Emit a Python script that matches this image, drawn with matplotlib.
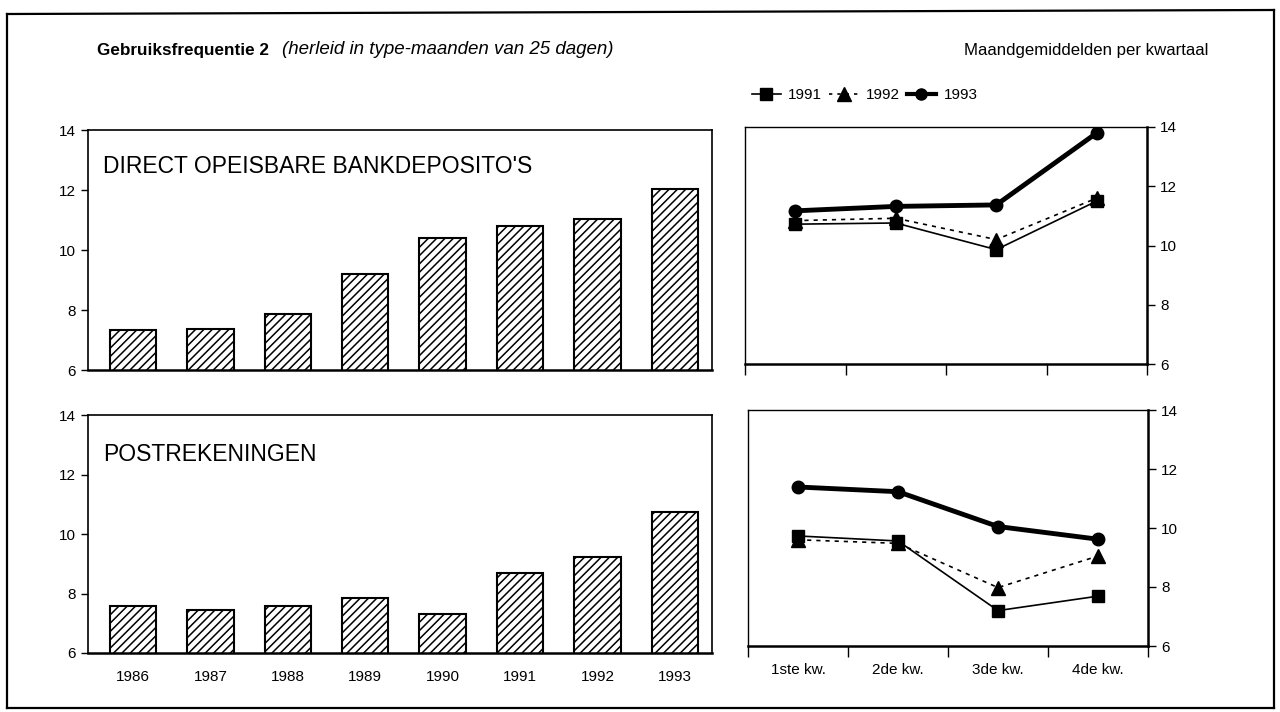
import numpy as np
import matplotlib.pyplot as plt
from matplotlib.lines import Line2D

plt.rcParams['font.family'] = ['Liberation Sans', 'DejaVu Sans']
plt.rcParams['hatch.linewidth'] = 1.1

# data
years = ['1986', '1987', '1988', '1989', '1990', '1991', '1992', '1993']
bank = [7.35, 7.37, 7.87, 9.19, 10.41, 10.8, 11.05, 12.05]
post = [7.58, 7.43, 7.57, 7.84, 7.32, 8.68, 9.23, 10.75]

quarters = ['1ste kw.', '2de kw.', '3de kw.', '4de kw.']
bank_1991 = [10.72, 10.76, 9.86, 11.5]
bank_1992 = [10.84, 10.92, 10.2, 11.6]
bank_1993 = [11.17, 11.32, 11.37, 13.8]
post_1991 = [9.73, 9.56, 7.2, 7.69]
post_1992 = [9.6, 9.48, 7.98, 9.05]
post_1993 = [11.39, 11.23, 10.05, 9.62]

W, H = 1280, 712
fig = plt.figure(figsize=(12.8, 7.12), dpi=100)

def box(x0, y0, x1, y1):
    # pixel coords (top-left origin) -> figure fraction rect
    return [x0 / W, 1 - y1 / H, (x1 - x0) / W, (y1 - y0) / H]

# outer frame
for xs, ys in [([7, 7], [14, 708]), ([7, 1274], [14, 10]), ([1274, 1274], [10, 708]),
               ([7, 1274], [708, 708])]:
    fig.add_artist(Line2D([x / W for x in xs], [1 - y / H for y in ys],
                          color='black', lw=1.6))

fig.text(97 / W, 1 - 50 / H, 'Gebruiksfrequentie 2', fontsize=12.3,
         fontweight='bold', va='center')
fig.text(282 / W, 1 - 50 / H, '(herleid in type-maanden van 25 dagen)',
         fontsize=13.5, style='italic', va='center')
fig.text(1208 / W, 1 - 50 / H, 'Maandgemiddelden per kwartaal', fontsize=12.1,
         ha='right', va='center')

def bar_panel(rect, values, label, label_y, show_years):
    ax = fig.add_axes(rect)
    x = np.arange(len(years))
    ax.bar(x, values, width=0.6, bottom=0, color='white', edgecolor='black',
           hatch='////', linewidth=1.5)
    ax.set_xlim(-0.58, 7.48)
    ax.set_ylim(6, 14)
    ax.set_yticks([6, 8, 10, 12, 14])
    ax.tick_params(axis='y', direction='out', length=5, labelsize=11, width=1)
    ax.set_xticks(x)
    if show_years:
        ax.set_xticklabels(years, fontsize=11)
        ax.tick_params(axis='x', length=0, pad=12)
    else:
        ax.set_xticklabels([])
        ax.tick_params(axis='x', length=0)
    for s in ax.spines.values():
        s.set_linewidth(1.2)
    ax.spines['bottom'].set_linewidth(1.8)
    ax.text(0.024, label_y, label, transform=ax.transAxes, fontsize=16.5,
            va='center')
    return ax

def line_panel(rect, s91, s92, s93, show_labels):
    ax = fig.add_axes(rect)
    x = np.arange(len(quarters)) + 0.5
    ax.plot(x, s92, color='black', lw=1.2, ls=(0, (2.5, 3)), marker='^',
            ms=10, zorder=3)
    ax.plot(x, s91, color='black', lw=1.2, marker='s', ms=9, zorder=4)
    ax.plot(x, s93, color='black', lw=3.5, marker='o', ms=9, zorder=5)
    ax.set_xlim(0, 4)
    ax.set_ylim(6, 14)
    ax.yaxis.tick_right()
    ax.set_yticks([6, 8, 10, 12, 14])
    ax.tick_params(axis='y', direction='out', length=6, labelsize=11, width=1)
    ax.set_xticks([0, 1, 2, 3, 4])
    ax.set_xticklabels([])
    ax.tick_params(axis='x', which='major', direction='out', length=8, width=1)
    if show_labels:
        ax.set_xticks(x, minor=True)
        ax.set_xticklabels(quarters, minor=True, fontsize=11)
        ax.tick_params(axis='x', which='minor', length=0, pad=12)
    for s in ax.spines.values():
        s.set_linewidth(1.0)
    ax.spines['bottom'].set_linewidth(1.8)
    ax.spines['right'].set_linewidth(1.8)
    return ax

bar_panel(box(88, 130, 712, 370), bank, "DIRECT OPEISBARE BANKDEPOSITO'S",
          0.846, False)
bar_panel(box(88, 415, 712, 653), post, 'POSTREKENINGEN', 0.832, True)
line_panel(box(745, 127, 1147, 364), bank_1991, bank_1992, bank_1993, False)
line_panel(box(748, 410, 1148, 646), post_1991, post_1992, post_1993, True)

handles = [
    Line2D([], [], color='black', lw=1.2, marker='s', ms=8),
    Line2D([], [], color='black', lw=1.2, ls=(0, (2, 3)), marker='^', ms=10),
    Line2D([], [], color='black', lw=3, marker='o', ms=8),
]
fig.legend(handles, ['1991', '1992', '1993'], loc='center left',
           bbox_to_anchor=(744 / W, 1 - 95 / H), ncol=3, frameon=False,
           fontsize=11, handlelength=1.9, handletextpad=0.5,
           columnspacing=0.45, borderpad=0)

fig.savefig('out.png', dpi=100)
